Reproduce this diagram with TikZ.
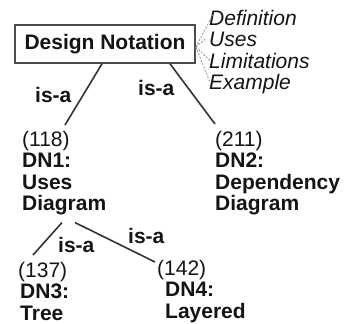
\documentclass[tikz,border=0pt]{standalone}
\usepackage{fontspec}
\setmainfont{Liberation Sans}
\begin{document}
\begin{tikzpicture}[x=1pt,y=-1pt,
  bigtext/.style={font=\fontsize{21}{21.5}\selectfont, inner sep=0pt, align=left, text=black!92},
  boxnode/.style={draw=black!70, line width=1.6pt, font=\fontsize{21}{24}\selectfont\bfseries, inner sep=0pt, minimum width=180pt, minimum height=38pt, text=black!92},
  item/.style={font=\fontsize{21}{24}\selectfont\itshape, inner sep=0pt, anchor=base west, text=black!92},
  isa/.style={font=\fontsize{21}{24}\selectfont\bfseries, inner sep=0pt, anchor=base west, text=black!92},
  link/.style={draw=black!80, line width=1.6pt},
  fan/.style={draw=black!45, line width=0.8pt, dash pattern=on 2pt off 1.5pt}]
\useasboundingbox (0,0) rectangle (346,324);

\node[boxnode] (box) at (105,44) {Design Notation};

\node[item] (def) at (209,25) {Definition};
\node[item] (uses) at (209,46.5) {Uses};
\node[item] (lim) at (209,68) {Limitations};
\node[item] (ex) at (209,89.5) {Example};

\coordinate (fanpt) at ([yshift=-3pt]box.east);
\draw[fan] (fanpt) -- ([xshift=4pt,yshift=3pt]def.west);
\draw[fan] (fanpt) -- ([xshift=-4pt]uses.west);
\draw[fan] (fanpt) -- ([xshift=1pt]lim.west);
\draw[fan] (fanpt) -- ([xshift=1pt,yshift=2pt]ex.west);

\node[bigtext, anchor=north west] (dn1) at (22,131) {(118)\\\textbf{DN1:}\\\textbf{Uses}\\\textbf{Diagram}};
\node[bigtext, anchor=north west] (dn2) at (215,131) {(211)\\\textbf{DN2:}\\\textbf{Dependency}\\\textbf{Diagram}};
\node[bigtext, anchor=north west] (dn3) at (20,262) {\hspace*{-2pt}(137)\\\textbf{DN3:}\\\textbf{Tree}};
\node[bigtext, anchor=north west] (dn4) at (165,260) {\hspace*{-8pt}(142)\\\textbf{DN4:}\\\textbf{Layered}};

\draw[link] ([xshift=-3pt]box.south) -- ([xshift=43pt,yshift=6pt]dn1.north west);
\draw[link] ([xshift=65pt]box.south) -- ([yshift=7pt]dn2.north west);
\draw[link] ([xshift=40pt,yshift=-7pt]dn1.south west) -- ([xshift=13pt,yshift=7pt]dn3.north west);
\draw[link] ([xshift=53pt,yshift=-7pt]dn1.south west) -- ([xshift=-10pt,yshift=-2pt]dn4.north west);

\node[isa] (isa1) at (35,102) {is-a};
\node[isa] (isa2) at (138,95) {is-a};
\node[isa] (isa3) at (58,252) {is-a};
\node[isa] (isa4) at (128,243) {is-a};
\end{tikzpicture}
\end{document}
